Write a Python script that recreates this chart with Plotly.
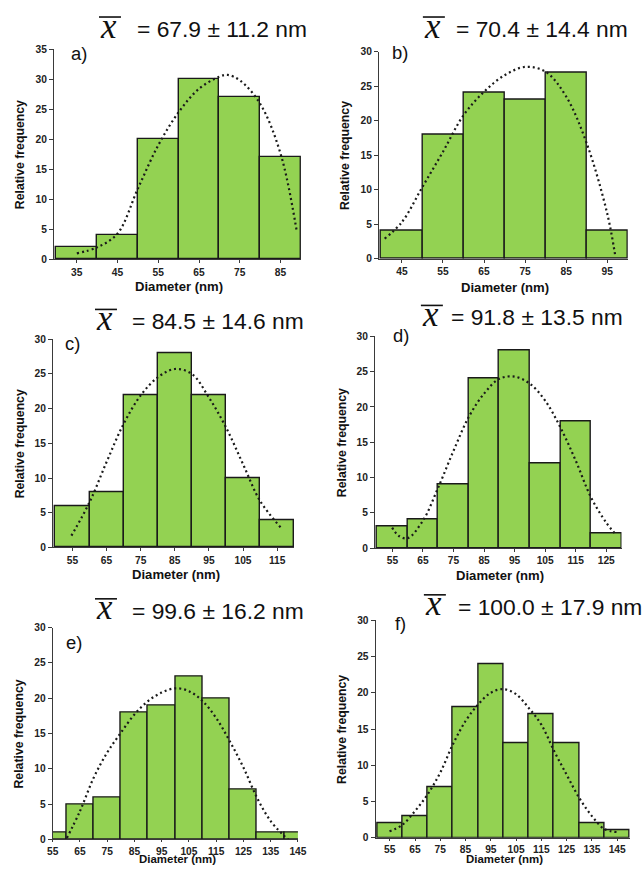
import plotly.graph_objects as go

W, H = 644, 872
# the photographed page comes out slightly scaled with a small border;
# positions below are measured on the reference picture and mapped back to page pixels
SX, OX = 0.977, 4.0
SY, OY = 0.986, 5.0

# ---------------- data ----------------
a_centers = [35, 45, 55, 65, 75, 85]
a_freq = [2, 4, 20, 30, 27, 17]
a_fit_x = [35, 40, 45, 50, 55, 60, 65, 70, 72, 75, 80, 85, 89]
a_fit_y = [1.0, 2.0, 4.3, 11.8, 19.0, 24.5, 28.4, 30.4, 30.7, 29.8, 25.9, 17.6, 4.6]
a_ticks = ["35", "45", "55", "65", "75", "85"]

b_centers = [45, 55, 65, 75, 85, 95]
b_freq = [4, 18, 24, 23, 27, 4]
b_fit_x = [40.8, 45, 50, 55, 60, 65, 70, 75, 80, 85, 90, 95, 97]
b_fit_y = [2.9, 5.3, 10.4, 15.5, 20.8, 24.2, 26.6, 27.8, 27.1, 23.5, 16.7, 6.5, 0.2]
b_ticks = ["45", "55", "65", "75", "85", "95"]

c_centers = [55, 65, 75, 85, 95, 105, 115]
c_freq = [6, 8, 22, 28, 22, 10, 4]
c_fit_x = [54.7, 60, 65, 70, 75, 80, 85, 90, 95, 100, 105, 110, 116]
c_fit_y = [1.7, 6.5, 12.3, 17.8, 21.9, 24.5, 25.7, 25.0, 21.6, 17.3, 12.0, 6.7, 2.9]
c_ticks = ["55", "65", "75", "85", "95", "105", "115"]

d_centers = [55, 65, 75, 85, 95, 105, 115, 125]
d_freq = [3, 4, 9, 24, 28, 12, 18, 2]
d_fit_x = [54.9, 57, 60, 65, 70, 75, 80, 85, 90, 95, 100, 105, 110, 115, 120, 125, 128]
d_fit_y = [2.9, 1.75, 1.4, 3.9, 8.6, 13.8, 18.6, 21.9, 24.0, 24.3, 23.3, 20.9, 17.1, 12.4, 7.2, 3.6, 2.0]
d_ticks = ["55", "65", "75", "85", "95", "105", "115", "125"]

e_centers = [55, 65, 75, 85, 95, 105, 115, 125, 135, 145]
e_freq = [1, 5, 6, 18, 19, 23, 20, 7, 1, 1]
e_fit_x = [60.2, 65, 70, 75, 80, 85, 90, 95, 100, 105, 110, 115, 120, 125, 130, 135, 140, 141.4]
e_fit_y = [0.2, 4.0, 8.7, 12.3, 15.1, 17.7, 19.6, 20.8, 21.4, 21.0, 19.6, 17.2, 13.9, 10.2, 5.9, 2.6, 0.5, 0.0]
e_ticks = ["55", "65", "75", "85", "95", "105", "115", "125", "135", "145"]

f_centers = [55, 65, 75, 85, 95, 105, 115, 125, 135, 145]
f_freq = [2, 3, 7, 18, 24, 13, 17, 13, 2, 1]
f_fit_x = [54.9, 60, 65, 70, 75, 80, 85, 90, 95, 100, 105, 110, 115, 120, 125, 130, 135, 140, 145]
f_fit_y = [0.9, 1.8, 3.7, 6.0, 9.0, 12.9, 16.1, 18.4, 20.0, 20.5, 19.8, 17.9, 15.6, 12.0, 8.7, 5.5, 3.0, 1.2, 0.8]
f_ticks = ["55", "65", "75", "85", "95", "105", "115", "125", "135", "145"]

labels = ["a)", "b)", "c)", "d)", "e)", "f)"]
means = ["= 67.9 ± 11.2 nm", "= 70.4 ± 14.4 nm", "= 84.5 ± 14.6 nm",
         "= 91.8 ± 13.5 nm", "= 99.6 ± 16.2 nm", "= 100.0 ± 17.9 nm"]

panels = [
    (a_centers, a_freq, a_fit_x, a_fit_y, a_ticks),
    (b_centers, b_freq, b_fit_x, b_fit_y, b_ticks),
    (c_centers, c_freq, c_fit_x, c_fit_y, c_ticks),
    (d_centers, d_freq, d_fit_x, d_fit_y, d_ticks),
    (e_centers, e_freq, e_fit_x, e_fit_y, e_ticks),
    (f_centers, f_freq, f_fit_x, f_fit_y, f_ticks),
]

# ---------------- layout geometry (reference-picture pixels) ----------------
geom = [
    dict(x0=52, x1=299, xr=[29.4, 90], yt=49, yb=259, ymax=35, tl=3),
    dict(x0=377, x1=626, xr=[39.4, 100], yt=51.7, yb=258.3, ymax=30, tl=3),
    dict(x0=51, x1=292.3, xr=[49.3, 120], yt=338.7, yb=546.7, ymax=30, tl=3),
    dict(x0=373, x1=619.7, xr=[49.25, 130], yt=336, yb=547.3, ymax=30, tl=3),
    dict(x0=50.7, x1=296, xr=[55, 145], yt=626.7, yb=838.3, ymax=30, tl=2),
    dict(x0=373.7, x1=628, xr=[49.4, 150], yt=619.3, yb=836.7, ymax=30, tl=2),
]
# xy: centre of the x title; None = sit on the bottom edge of the page
tpos = [
    dict(xb=97, tx=133, ty=29, lx=67, ly=53, yx=18, xy=286, ts=12.8),
    dict(xb=421, tx=452, ty=29, lx=388, ly=52, yx=343, xy=287, ts=12.8),
    dict(xb=93, tx=128, ty=321, lx=61, ly=343, yx=18, xy=574, ts=12.8),
    dict(xb=419, tx=447, ty=317, lx=389, ly=335, yx=340, xy=575, ts=12.8),
    dict(xb=93, tx=128, ty=610, lx=62, ly=642, yx=17, xy=None, ts=11.2),
    dict(xb=422, tx=454, ty=606, lx=391, ly=623, yx=340, xy=None, ts=11.2),
]

def fx(r):
    return ((r - OX) / SX) / W

def fy(r):
    return 1 - ((r - OY) / SY) / H

def fs(s):
    return s / SX

fig = go.Figure()
layout = dict(
    width=W, height=H, margin=dict(l=0, r=0, t=0, b=0),
    paper_bgcolor="white", plot_bgcolor="white", showlegend=False,
    bargap=0,
)
annotations = []
shapes = []

AX = "#3a3a3a"
TF = dict(family="Liberation Sans, Arial, sans-serif", size=fs(10), color="#222", weight="bold")

for i, ((cx, fq, fitx, fity, tt), g, t) in enumerate(zip(panels, geom, tpos)):
    n = "" if i == 0 else str(i + 1)
    xa, ya = "x" + n, "y" + n
    fig.add_trace(go.Bar(
        x=cx, y=fq, width=10, xaxis=xa, yaxis=ya,
        marker=dict(color="#93d252", line=dict(color="#1a1a1a", width=1.4)),
    ))
    fig.add_trace(go.Scatter(
        x=fitx, y=fity, xaxis=xa, yaxis=ya, mode="lines",
        line=dict(color="#1a1a1a", width=2.2, dash="2px,3px", shape="spline"),
    ))
    layout["xaxis" + n] = dict(
        domain=[fx(g["x0"]), fx(g["x1"])], range=g["xr"], anchor=ya,
        tickvals=cx, ticktext=tt, ticks="outside", ticklen=g["tl"], tickcolor=AX,
        showline=True, linecolor=AX, linewidth=1, showgrid=False, zeroline=False,
        tickfont=TF, fixedrange=True,
    )
    layout["yaxis" + n] = dict(
        domain=[fy(g["yb"]), fy(g["yt"])], range=[0, g["ymax"]], anchor=xa,
        dtick=5, ticks="outside", ticklen=4, tickcolor=AX,
        showline=True, linecolor=AX, linewidth=1, showgrid=False, zeroline=False,
        tickfont=TF, fixedrange=True,
    )
    # mean symbol: italic x with an overbar
    annotations.append(dict(
        text="x", x=fx(t["xb"] + 10), y=fy(t["ty"] - 3), xref="paper", yref="paper",
        xanchor="center", yanchor="middle", showarrow=False,
        font=dict(family="Liberation Serif, Times New Roman, serif", size=fs(34),
                  color="#111", style="italic"),
    ))
    shapes.append(dict(
        type="line", xref="paper", yref="paper",
        x0=fx(t["xb"]), x1=fx(t["xb"] + 22), y0=fy(t["ty"] - 12), y1=fy(t["ty"] - 12),
        line=dict(color="#111", width=1.6),
    ))
    annotations.append(dict(
        text=means[i], x=fx(t["tx"]), y=fy(t["ty"]), xref="paper", yref="paper",
        xanchor="left", yanchor="middle", showarrow=False,
        font=dict(family="Liberation Sans, Arial, sans-serif", size=fs(22.3), color="#111"),
    ))
    annotations.append(dict(
        text=labels[i], x=fx(t["lx"]), y=fy(t["ly"]), xref="paper", yref="paper",
        xanchor="left", yanchor="middle", showarrow=False,
        font=dict(family="Liberation Sans, Arial, sans-serif", size=fs(18), color="#111"),
    ))
    annotations.append(dict(
        text="<b>Relative frequency</b>", x=fx(t["yx"]), y=fy((g["yt"] + g["yb"]) / 2),
        xref="paper", yref="paper", xanchor="center", yanchor="middle",
        showarrow=False, textangle=-90,
        font=dict(family="Liberation Sans, Arial, sans-serif", size=fs(12), color="#111"),
    ))
    if t["xy"] is None:
        ty_pos, ty_anchor = 0.0, "bottom"
    else:
        ty_pos, ty_anchor = fy(t["xy"]), "middle"
    annotations.append(dict(
        text="<b>Diameter (nm)</b>", x=fx((g["x0"] + g["x1"]) / 2 + 2), y=ty_pos,
        xref="paper", yref="paper", xanchor="center", yanchor=ty_anchor, showarrow=False,
        borderpad=0,
        font=dict(family="Liberation Sans, Arial, sans-serif", size=fs(t["ts"]), color="#111"),
    ))

layout["annotations"] = annotations
layout["shapes"] = shapes
fig.update_layout(**layout)
fig.write_html(
    "out.html",
    config={"displayModeBar": False},
    post_script=("document.body.style.margin='0px';"
                 "document.documentElement.style.overflow='hidden';"
                 "document.body.style.overflow='hidden';"),
)
